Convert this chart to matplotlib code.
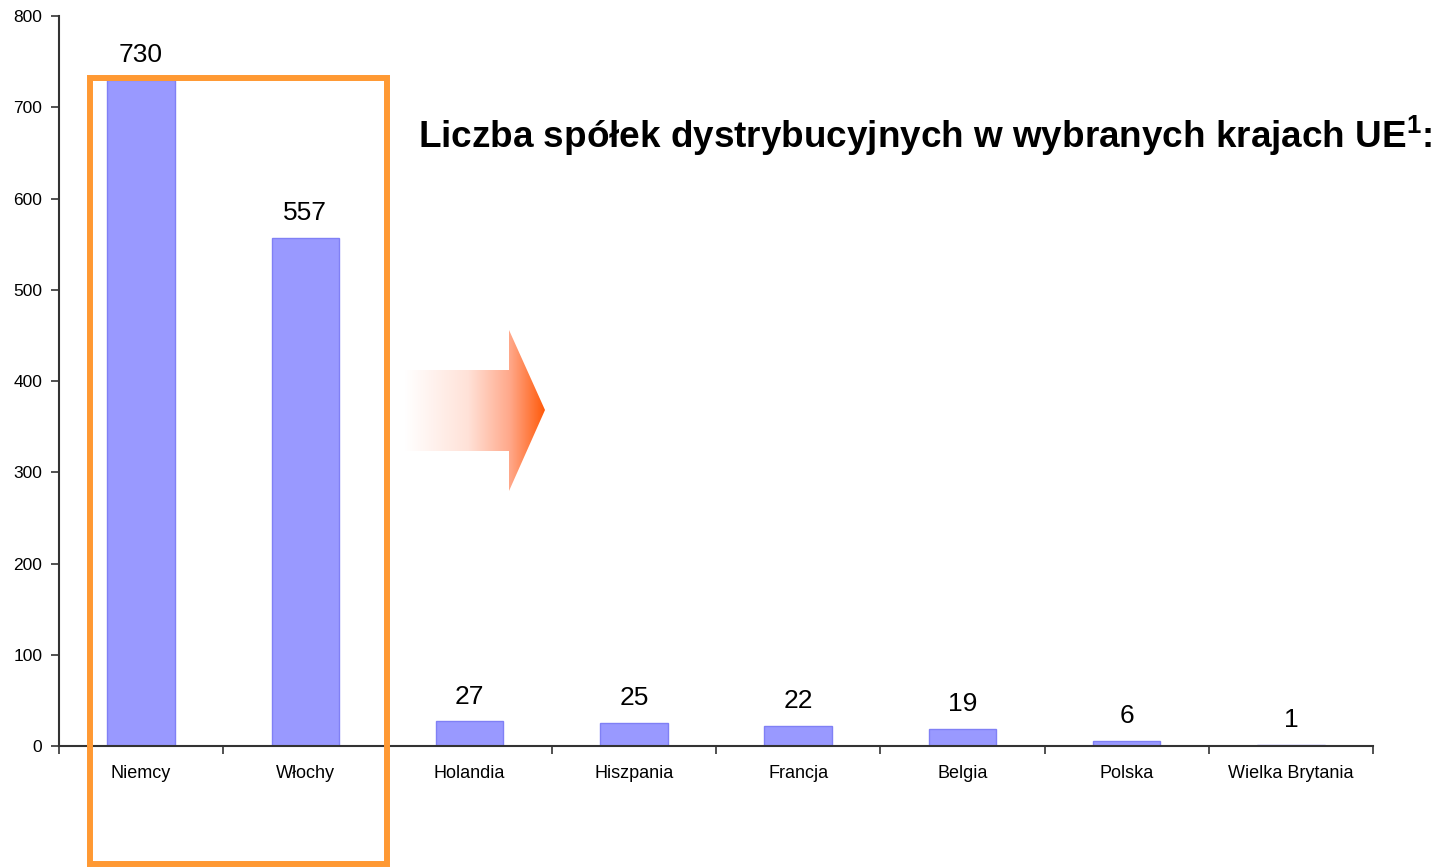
import numpy as np
import matplotlib
matplotlib.use('Agg')
import matplotlib.pyplot as plt
from matplotlib.patches import Rectangle, Polygon
from matplotlib.colors import LinearSegmentedColormap

plt.rcParams['font.family'] = ['Liberation Sans', 'DejaVu Sans']

countries = ['Niemcy', 'Włochy', 'Holandia', 'Hiszpania', 'Francja', 'Belgia', 'Polska', 'Wielka Brytania']
companies = [730, 557, 27, 25, 22, 19, 6, 1]
yticks = [0, 100, 200, 300, 400, 500, 600, 700, 800]
title = 'Liczba spółek dystrybucyjnych w wybranych krajach UE$^{\\mathregular{1}}$:'

W, H = 1445, 867
fig = plt.figure(figsize=(W / 100, H / 100), dpi=100, facecolor='white')
ax = fig.add_axes([59 / W, 1 - 746 / H, (1373 - 59) / W, (746 - 16) / H])

x = np.arange(len(countries))
ax.bar(x, companies, width=0.41, color='#9999FF', edgecolor='#8080F5', linewidth=1.0, zorder=2)
for xi, v in zip(x, companies):
    ax.text(xi, v + 14, str(v), ha='center', va='bottom', fontsize=19, color='black')

ax.set_xlim(-0.5, len(countries) - 0.5)
ax.set_ylim(0, 800)
ax.set_yticks(yticks)
ax.set_xticks(x)
ax.set_xticklabels(countries, fontsize=13)
ax.set_xticks(np.arange(-0.5, len(countries)), minor=True)
ax.tick_params(axis='x', which='major', length=0, pad=14)
ax.tick_params(axis='x', which='minor', length=6, width=1.2, color='#333333', direction='out')
ax.tick_params(axis='y', length=6, width=1.2, color='#333333', labelsize=12.5, pad=6)
for s in ['top', 'right']:
    ax.spines[s].set_visible(False)
for s in ['left', 'bottom']:
    ax.spines[s].set_color('#333333')
    ax.spines[s].set_linewidth(1.5)

# overlay in pixel coordinates
ov = fig.add_axes([0, 0, 1, 1], facecolor='none')
ov.set_xlim(0, W)
ov.set_ylim(H, 0)
ov.axis('off')

fig.text(418 / W, 1 - 136 / H, title, fontsize=26.6, fontweight='bold', va='center', ha='left')

# orange frame around the two largest
ov.add_patch(Rectangle((90, 78), 297, 786, fill=False, edgecolor='#FF9933', linewidth=4.3, zorder=5))

# gradient arrow
pts = [(405, 370), (509, 370), (509, 330), (545, 410), (509, 491), (509, 451), (405, 451)]
poly = Polygon(pts, closed=True, facecolor='none', edgecolor='none')
ov.add_patch(poly)
cmap = LinearSegmentedColormap.from_list('arr', [(0, '#FFFFFF'), (0.45, '#FFE2D8'), (0.75, '#FFA88A'), (1.0, '#FF5A0A')])
grad = np.linspace(0, 1, 256).reshape(1, -1)
im = ov.imshow(grad, cmap=cmap, extent=(405, 545, 491, 330), aspect='auto', zorder=4)
im.set_clip_path(poly)
ov.set_xlim(0, W)
ov.set_ylim(H, 0)

fig.savefig('out.png', dpi=100, facecolor='white')
